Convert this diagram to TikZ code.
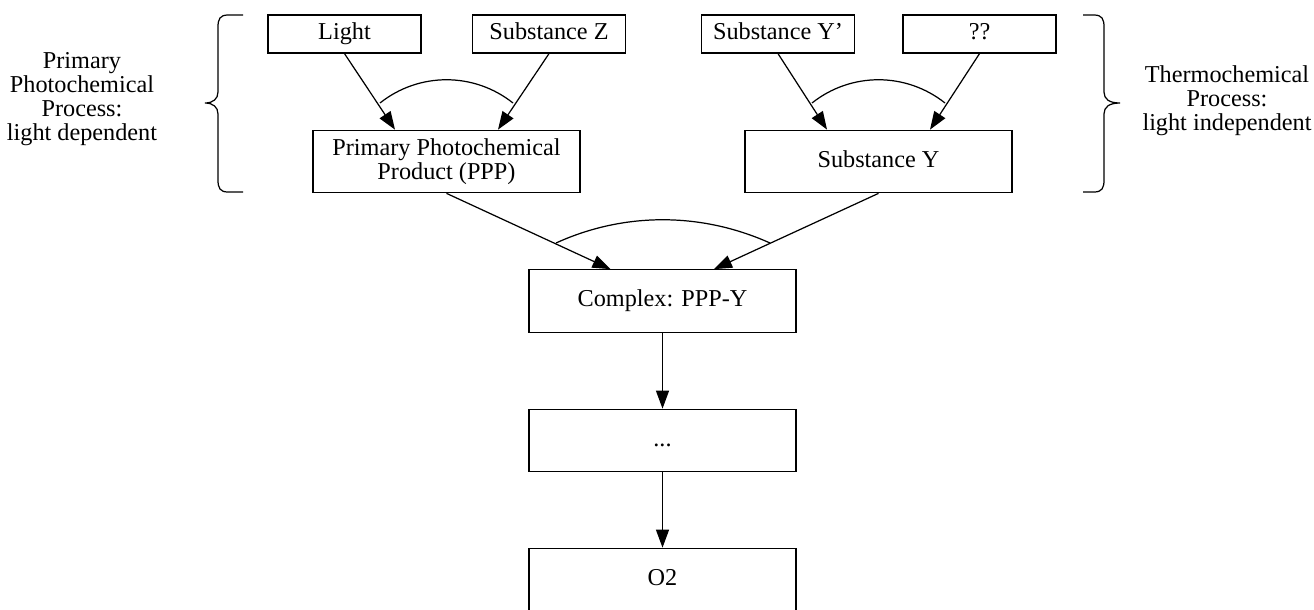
\documentclass[tikz,border=0pt]{standalone}
\usepackage{fontspec}
\setmainfont{Liberation Serif}
\usetikzlibrary{arrows.meta}

\begin{document}
\begin{tikzpicture}
[x=0.02cm,y=-0.02cm,line width=0.7pt,%
  every node/.style={inner sep=0pt,align=center,font=\fontsize{13.8}{13.7}\selectfont},%
  inbox/.style={draw,minimum width=3.06cm,minimum height=0.76cm,text height=9.4pt,text depth=3pt},%
  stagebox/.style={draw,minimum width=5.34cm,minimum height=1.25cm,text height=9.4pt,text depth=3pt},%
  arr/.style={-{Triangle[length=0.36cm,width=0.26cm]}}]
\useasboundingbox (0,0) rectangle (1314,609);
% inputs
\node[inbox] (light) at (344.5,34) {Light};
\node[inbox] (subz) at (549,34) {Substance Z};
\node[inbox] (subyp) at (778,34) {Substance Y'};
\node[inbox] (unknown) at (979.5,34) {??};
% products
\node[stagebox,text height=,text depth=] (ppp) at (446.5,161.5) {Primary Photochemical\\Product (PPP)};
\node[stagebox] (suby) at (878.5,161.5) {Substance Y};
\node[stagebox] (complex) at (662.5,301) {Complex: PPP-Y};
\node[stagebox] (dots) at (662.5,440.5) {...};
\node[stagebox] (otwo) at (662.5,579.5) {O2};
% side labels
\node (photolabel) at (82,99) {Primary\\Photochemical\\Process:\\light dependent};
\node (thermolabel) at (1227,101) {Thermochemical\\Process:\\light independent};
% edges
\draw[arr] (light.south) -- ([xshift=-1.03cm]ppp.north);
\draw[arr] (subz.south) -- ([xshift=1.03cm]ppp.north);
\draw[arr] (subyp.south) -- ([xshift=-1.03cm]suby.north);
\draw[arr] (unknown.south) -- ([xshift=1.03cm]suby.north);
\draw[arr] (ppp.south) -- ([xshift=-1.04cm]complex.north);
\draw[arr] (suby.south) -- ([xshift=1.03cm]complex.north);
\draw[arr] (complex) -- (dots);
\draw[arr] (dots) -- (otwo);
% and-arcs
\draw (380,103) .. controls (419,72) and (474,72) .. (513,103);
\draw (812,103) .. controls (851,72) and (906,72) .. (945,103);
\draw (556,243) .. controls (624,212) and (701,212) .. (770,243);
% braces
\draw (243,15) -- (228,15) .. controls (220,15) and (218,19) .. (218,27) -- (218,92)
  .. controls (218,99) and (213,103) .. (205,103)
  .. controls (213,103) and (218,107) .. (218,114) -- (218,180)
  .. controls (218,188) and (220,192) .. (228,192) -- (243,192);
\draw (1083,15) -- (1094,15) .. controls (1102,15) and (1104,19) .. (1104,27) -- (1104,92)
  .. controls (1104,99) and (1109,103) .. (1120,103)
  .. controls (1109,103) and (1104,107) .. (1104,114) -- (1104,180)
  .. controls (1104,188) and (1102,192) .. (1094,192) -- (1083,192);
\end{tikzpicture}
\end{document}
